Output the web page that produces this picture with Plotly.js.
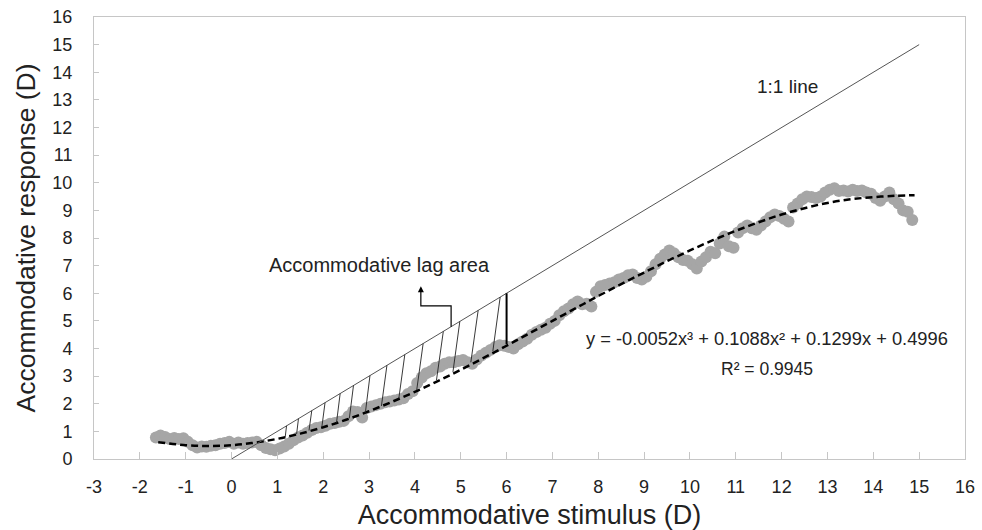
<!DOCTYPE html>
<html>
<head>
<meta charset="utf-8">
<script src="https://cdn.plot.ly/plotly-3.0.1.min.js"></script>
<style>html,body{margin:0;padding:0;background:#fff;}#chart{width:982px;height:530px;}</style>
</head>
<body>
<div id="chart"></div>
<script>
// Measured data points (stimulus D, response D)
const stimulus = [-1.65,-1.55,-1.45,-1.35,-1.25,-1.15,-1.05,-0.95,-0.85,-0.75,-0.65,-0.55,-0.45,-0.35,-0.25,-0.15,-0.05,0.05,0.15,0.25,0.35,0.45,0.55,0.65,0.75,0.85,0.95,1.05,1.15,1.25,1.35,1.45,1.55,1.65,1.75,1.85,1.95,2.05,2.15,2.25,2.35,2.45,2.55,2.65,2.75,2.85,2.95,3.05,3.15,3.25,3.35,3.45,3.55,3.65,3.75,3.85,3.95,4.05,4.15,4.25,4.35,4.45,4.55,4.65,4.75,4.85,4.95,5.05,5.15,5.25,5.35,5.45,5.55,5.65,5.75,5.85,5.95,6.05,6.15,6.25,6.35,6.45,6.55,6.65,6.75,6.85,6.95,7.05,7.15,7.25,7.35,7.45,7.55,7.65,7.75,7.85,7.95,8.05,8.15,8.25,8.35,8.45,8.55,8.65,8.75,8.85,8.95,9.05,9.15,9.25,9.35,9.45,9.55,9.65,9.75,9.85,9.95,10.05,10.15,10.25,10.35,10.45,10.55,10.65,10.75,10.85,10.95,11.05,11.15,11.25,11.35,11.45,11.55,11.65,11.75,11.85,11.95,12.05,12.15,12.25,12.35,12.45,12.55,12.65,12.75,12.85,12.95,13.05,13.15,13.25,13.35,13.45,13.55,13.65,13.75,13.85,13.95,14.05,14.15,14.25,14.35,14.45,14.55,14.65,14.75,14.85];
const response = [0.78,0.85,0.80,0.72,0.76,0.72,0.75,0.62,0.50,0.42,0.45,0.44,0.48,0.50,0.55,0.58,0.62,0.55,0.60,0.55,0.58,0.60,0.62,0.50,0.40,0.35,0.32,0.38,0.45,0.55,0.68,0.78,0.85,0.95,1.05,1.12,1.15,1.20,1.28,1.30,1.35,1.38,1.55,1.72,1.70,1.50,1.85,1.90,1.95,2.00,2.05,2.08,2.12,2.15,2.20,2.35,2.45,2.75,2.95,3.10,3.18,3.30,3.35,3.45,3.50,3.50,3.55,3.58,3.50,3.45,3.60,3.75,3.85,3.95,4.05,4.12,4.10,4.05,4.00,4.15,4.25,4.35,4.50,4.60,4.68,4.75,4.90,5.00,5.20,5.35,5.45,5.60,5.70,5.60,5.62,5.52,6.05,6.25,6.30,6.35,6.40,6.50,6.55,6.65,6.68,6.55,6.50,6.60,6.80,7.05,7.25,7.40,7.55,7.45,7.30,7.20,7.18,7.05,6.90,7.15,7.30,7.50,7.45,7.80,8.05,7.70,7.65,8.20,8.35,8.45,8.35,8.30,8.45,8.60,8.75,8.85,8.80,8.70,8.60,9.10,9.25,9.40,9.50,9.48,9.45,9.50,9.65,9.75,9.80,9.70,9.72,9.68,9.75,9.70,9.72,9.65,9.60,9.45,9.35,9.50,9.65,9.40,9.25,9.00,8.95,8.65];

// Polynomial trendline as drawn
const trendX = [-1.6,-1,-0.5,0,0.5,1,1.5,2,2.5,3,3.5,4,4.5,5,5.5,6,6.5,7,7.5,8,8.5,9,9.5,10,10.5,11,11.5,12,12.5,13,13.5,14,14.5,14.9];
const trendY = [0.61,0.50,0.47,0.50,0.59,0.73,0.92,1.15,1.42,1.73,2.07,2.43,2.82,3.23,3.66,4.10,4.55,5.00,5.45,5.90,6.33,6.75,7.16,7.55,7.92,8.26,8.57,8.85,9.08,9.27,9.40,9.48,9.53,9.55];

// 1:1 line
const identityX = [0, 15];
const identityY = [0, 15];

// Hatching of the accommodative lag area
const hatchTopX = [1.20,1.46,1.75,2.04,2.37,2.66,3.02,3.39,3.78,4.18,4.62,4.98,5.38,5.86];
const hatchBottomX = [1.17,1.42,1.69,1.97,2.29,2.57,2.92,3.27,3.65,4.04,4.47,4.83,5.22,5.70];
const hatchBottomY = [0.78,0.90,1.03,1.15,1.31,1.47,1.68,1.92,2.20,2.50,2.85,3.15,3.50,3.90];

// Lag marker at 6 D
const lagX = [6, 6];
const lagY = [6, 4.15];

// Callout from the lag area to its label
const calloutX = [4.79, 4.79, 4.13, 4.13];
const calloutY = [4.79, 5.54, 5.54, 6.05];

// Axis ticks (hyphen-minus as in the original)
const xTickVals = [-3,-2,-1,0,1,2,3,4,5,6,7,8,9,10,11,12,13,14,15,16];
const xTickText = ['-3','-2','-1','0','1','2','3','4','5','6','7','8','9','10','11','12','13','14','15','16'];
const yTickVals = [0,1,2,3,4,5,6,7,8,9,10,11,12,13,14,15,16];

const hx = [], hy = [];
for (let i = 0; i < hatchTopX.length; i++) {
  hx.push(hatchTopX[i], hatchBottomX[i], null);
  hy.push(hatchTopX[i], hatchBottomY[i], null);
}

const FONT = "Liberation Sans, Arial, sans-serif";

const traces = [
  {x: stimulus, y: response, mode: 'markers', type: 'scatter',
   marker: {size: 12, color: '#a6a6a6', line: {width: 0}}, hoverinfo: 'skip'},
  {x: trendX, y: trendY, mode: 'lines', type: 'scatter',
   line: {color: '#000', width: 2.5, dash: '7px,4px', shape: 'spline'}},
  {x: identityX, y: identityY, mode: 'lines', type: 'scatter',
   line: {color: '#555', width: 1}},
  {x: hx, y: hy, mode: 'lines', type: 'scatter', connectgaps: false,
   line: {color: '#222', width: 0.9}},
  {x: lagX, y: lagY, mode: 'lines', type: 'scatter',
   line: {color: '#000', width: 2}},
  {x: calloutX, y: calloutY, mode: 'lines', type: 'scatter',
   line: {color: '#000', width: 1.2}}
];

const layout = {
  width: 982, height: 530,
  margin: {l: 94, r: 17, t: 17, b: 71, pad: 0},
  paper_bgcolor: '#fff', plot_bgcolor: '#fff',
  showlegend: false,
  font: {family: FONT, color: '#222'},
  xaxis: {
    range: [-3, 16], tickmode: 'array', tickvals: xTickVals, ticktext: xTickText,
    showgrid: false, zeroline: false,
    ticks: 'inside', ticklen: 7, tickcolor: '#c6c6c6', tickwidth: 1,
    showline: true, linecolor: '#c6c6c6', linewidth: 1, mirror: true,
    tickfont: {size: 18, family: FONT, color: '#222'}, ticklabelstandoff: 11,
    title: {text: 'Accommodative stimulus (D)', font: {size: 27, family: FONT, color: '#222'}, standoff: 10}
  },
  yaxis: {
    range: [0, 16], tickmode: 'array', tickvals: yTickVals,
    showgrid: false, zeroline: false,
    ticks: 'inside', ticklen: 5, tickcolor: '#c6c6c6', tickwidth: 1,
    showline: true, linecolor: '#c6c6c6', linewidth: 1, mirror: true,
    tickfont: {size: 18, family: FONT, color: '#222'}, ticklabelstandoff: 17,
    title: {text: 'Accommodative response (D)', font: {size: 26.5, family: FONT, color: '#222'}, standoff: 9}
  },
  annotations: [
    {x: 4.13, y: 6.25, ax: 4.13, ay: 6.0, axref: 'x', ayref: 'y', xref: 'x', yref: 'y',
     showarrow: true, arrowhead: 2, arrowsize: 1, arrowwidth: 1.2, arrowcolor: '#000', text: ''},
    {x: 3.22, y: 7.02, xref: 'x', yref: 'y', text: 'Accommodative lag area', showarrow: false,
     font: {size: 20, family: FONT, color: '#222'}},
    {x: 12.13, y: 13.47, xref: 'x', yref: 'y', text: '1:1 line', showarrow: false,
     font: {size: 19, family: FONT, color: '#222'}},
    {x: 11.67, y: 4.38, xref: 'x', yref: 'y', text: 'y = -0.0052x³ + 0.1088x² + 0.1299x + 0.4996', showarrow: false,
     font: {size: 18.3, family: FONT, color: '#222'}},
    {x: 11.68, y: 3.26, xref: 'x', yref: 'y', text: 'R² = 0.9945', showarrow: false,
     font: {size: 17.5, family: FONT, color: '#222'}}
  ]
};

Plotly.newPlot('chart', traces, layout, {displayModeBar: false, staticPlot: true});
</script>
</body>
</html>
